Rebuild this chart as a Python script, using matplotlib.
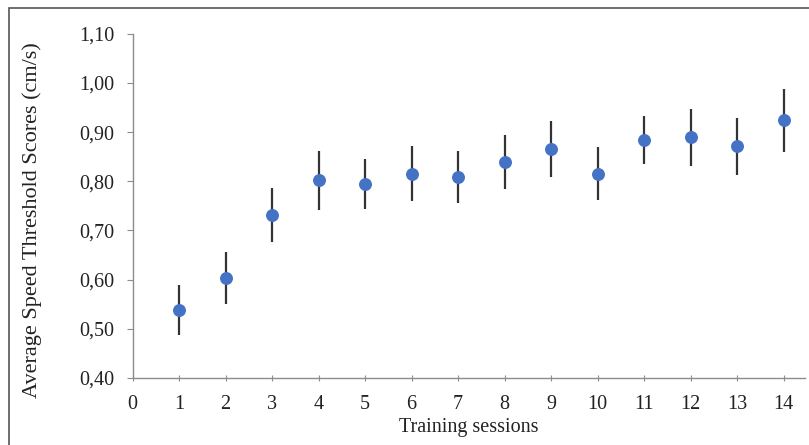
import matplotlib.pyplot as plt
from matplotlib.ticker import FuncFormatter
from matplotlib.patches import Rectangle

# ===============================
# Data
# ===============================
sessions = [1, 2, 3, 4, 5, 6, 7, 8, 9, 10, 11, 12, 13, 14]
mean_scores = [0.538, 0.603, 0.732, 0.802, 0.795, 0.815, 0.808,
               0.839, 0.866, 0.815, 0.884, 0.890, 0.871, 0.924]
errors = [0.050, 0.052, 0.055, 0.060, 0.051, 0.056, 0.053,
          0.055, 0.057, 0.054, 0.049, 0.058, 0.058, 0.064]

plt.rcParams["font.family"] = ["Liberation Serif", "DejaVu Serif"]

fig = plt.figure(figsize=(8.09, 4.45), dpi=100)
ax = fig.add_axes([0.164, 0.151, 0.831, 0.773])

ax.errorbar(
    sessions,
    mean_scores,
    yerr=errors,
    fmt="o",
    color="#4472C4",
    markersize=8.3,
    ecolor="#333333",
    elinewidth=1.6,
    capsize=0,
    zorder=3,
)

ax.set_xlim(0, 14.46)
ax.set_ylim(0.40, 1.10)
ax.set_xticks(range(0, 15))
ax.set_yticks([0.4, 0.5, 0.6, 0.7, 0.8, 0.9, 1.0, 1.1])
ax.yaxis.set_major_formatter(FuncFormatter(lambda v, p: f"{v:.2f}".replace(".", ",")))

for side in ["top", "right"]:
    ax.spines[side].set_visible(False)
for side in ["left", "bottom"]:
    ax.spines[side].set_color("#8c8c8c")
    ax.spines[side].set_linewidth(1.0)

ax.tick_params(axis="y", direction="out", length=4, color="#8c8c8c",
               labelsize=14.5, labelcolor="#222222", pad=9)
ax.tick_params(axis="x", direction="inout", length=5, color="#8c8c8c",
               labelsize=14.5, labelcolor="#222222", pad=10)

ax.set_xlabel("Training sessions", fontsize=14.5, color="#222222")
ax.set_ylabel("Average Speed Threshold Scores (cm/s)", fontsize=16,
              color="#222222")
ax.xaxis.label.set_va("center")
ax.yaxis.label.set_va("center")
ax.xaxis.set_label_coords(0.4996, -0.145)
ax.yaxis.set_label_coords(-0.150, 0.459)

# outer frame around the figure (top and left visible)
fig.patches.append(Rectangle((9 / 809, -0.05), 1.2, (445 - 8) / 445 + 0.05,
                             transform=fig.transFigure, fill=False,
                             edgecolor="#555555", linewidth=1.2))

fig.savefig("out.png", dpi=100)
